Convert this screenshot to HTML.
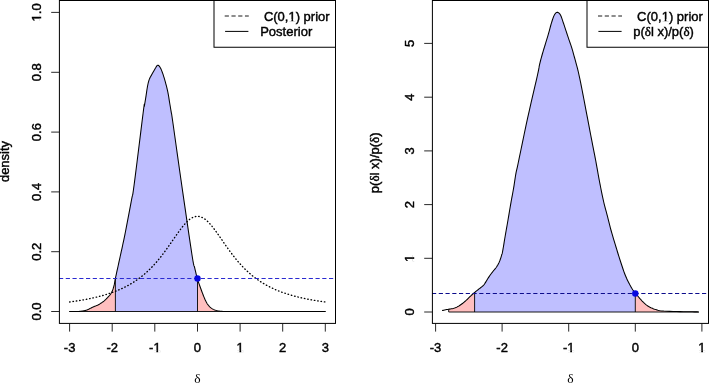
<!DOCTYPE html><html><head><meta charset="utf-8"><title>plot</title><style>html,body{margin:0;padding:0;background:#fff}svg{display:block;will-change:transform}</style></head><body>
<svg width="709" height="383" viewBox="0 0 709 383">
<rect width="709" height="383" fill="#fff"/>
<path d="M69.6,311.5 L69.6,311.5 L70.6,311.5 L71.9,311.5 L73.5,311.5 L75.2,311.5 L76.7,311.5 L78.0,311.5 L79.0,311.4 L79.8,311.4 L80.6,311.3 L81.3,311.2 L81.9,311.1 L82.5,311.0 L83.1,310.9 L83.6,310.8 L84.1,310.7 L84.6,310.6 L85.0,310.5 L85.5,310.4 L85.9,310.3 L86.3,310.2 L86.6,310.1 L87.0,309.9 L87.5,309.7 L88.0,309.5 L88.7,309.2 L89.4,308.8 L90.3,308.4 L91.1,308.0 L92.0,307.5 L92.9,307.1 L93.8,306.7 L94.7,306.3 L95.6,306.0 L96.5,305.6 L97.5,305.2 L98.4,304.7 L99.3,304.2 L100.3,303.6 L101.2,303.0 L102.1,302.4 L103.0,301.8 L103.9,301.1 L104.7,300.4 L105.5,299.7 L106.3,298.9 L107.0,298.2 L107.7,297.4 L108.4,296.7 L109.0,296.0 L109.6,295.4 L110.1,294.7 L110.6,294.1 L111.1,293.3 L111.6,292.5 L112.0,291.6 L112.5,290.6 L112.9,289.5 L113.2,288.4 L113.6,287.3 L113.9,286.1 L114.2,284.9 L114.4,283.8 L114.6,282.6 L114.8,281.4 L115.1,280.0 L115.4,278.4 L115.4,311.5 Z" fill="#ffbfbf"/>
<path d="M115.4,311.5 L115.4,278.4 L115.8,276.6 L116.2,274.6 L116.7,272.4 L117.2,270.2 L117.7,268.0 L118.1,266.0 L118.5,264.1 L118.9,262.2 L119.3,260.4 L119.7,258.5 L120.1,256.8 L120.5,255.0 L120.9,253.3 L121.2,251.7 L121.6,250.1 L121.9,248.5 L122.3,246.8 L122.7,245.0 L123.1,243.2 L123.4,241.6 L123.8,239.9 L124.2,237.9 L124.7,235.3 L125.4,232.0 L126.3,227.6 L127.3,222.1 L128.5,216.1 L129.6,210.1 L130.6,204.6 L131.5,200.0 L132.1,197.2 L132.4,196.0 L132.6,195.2 L132.9,193.8 L133.3,190.8 L134.1,185.0 L135.4,175.1 L137.1,161.8 L138.9,146.7 L140.8,131.8 L142.4,119.0 L143.5,110.0 L144.1,105.5 L144.3,104.1 L144.3,106.4 L144.6,104.8 L144.9,103.0 L145.2,101.1 L145.5,99.2 L145.8,97.4 L146.1,95.6 L146.4,93.6 L146.7,91.7 L146.9,89.8 L147.2,88.0 L147.5,86.4 L147.8,85.0 L148.0,83.8 L148.3,82.6 L148.6,81.6 L148.9,80.6 L149.2,79.6 L149.6,78.7 L150.0,77.8 L150.4,77.0 L150.8,76.2 L151.3,75.4 L151.8,74.5 L152.3,73.5 L152.9,72.5 L153.5,71.4 L154.1,70.4 L154.7,69.4 L155.2,68.6 L155.7,67.8 L156.1,67.1 L156.5,66.4 L156.9,65.8 L157.3,65.4 L157.7,65.2 L158.1,65.2 L158.6,65.5 L159.0,65.9 L159.4,66.4 L159.9,67.0 L160.3,67.7 L160.7,68.5 L161.1,69.3 L161.6,70.3 L162.0,71.4 L162.4,72.5 L162.8,73.7 L163.2,75.0 L163.7,76.3 L164.1,77.7 L164.5,79.1 L165.0,80.7 L165.4,82.2 L165.8,83.8 L166.3,85.5 L166.7,87.2 L167.1,88.9 L167.5,90.7 L167.9,92.4 L168.2,94.1 L168.5,95.8 L168.8,97.5 L169.1,99.1 L169.3,100.8 L169.6,102.5 L169.9,104.2 L170.2,106.0 L170.5,107.8 L170.8,109.5 L171.0,111.2 L171.3,112.7 L171.4,113.5 L171.5,113.4 L171.5,113.2 L171.6,113.8 L171.9,115.8 L172.5,120.0 L173.5,126.8 L174.7,135.5 L176.1,145.8 L177.7,156.9 L179.4,168.5 L181.0,180.0 L182.8,192.4 L184.8,206.2 L186.9,220.5 L188.9,234.1 L190.6,245.9 L192.0,255.0 L192.9,260.8 L193.5,263.9 L193.9,265.4 L194.1,266.0 L194.3,266.5 L194.7,267.8 L195.1,269.8 L195.6,271.7 L196.0,273.6 L196.5,275.4 L196.9,277.1 L197.4,278.8 L197.5,279.1 L197.5,311.5 Z" fill="#bfbfff"/>
<path d="M197.5,311.5 L197.5,279.1 L197.9,280.3 L198.3,281.8 L198.8,283.1 L199.3,284.4 L199.7,285.7 L200.2,287.0 L200.7,288.3 L201.1,289.5 L201.6,290.8 L202.0,292.0 L202.5,293.1 L202.9,294.3 L203.3,295.4 L203.8,296.6 L204.2,297.7 L204.7,298.7 L205.1,299.7 L205.6,300.7 L206.1,301.6 L206.5,302.4 L206.9,303.2 L207.4,303.9 L207.9,304.6 L208.4,305.3 L208.9,305.9 L209.5,306.5 L210.1,307.1 L210.7,307.7 L211.3,308.1 L212.0,308.6 L212.7,309.0 L213.4,309.4 L214.1,309.7 L214.9,310.0 L215.7,310.3 L216.6,310.5 L217.6,310.7 L218.6,310.9 L219.6,311.1 L220.8,311.2 L221.9,311.3 L223.0,311.4 L223.1,311.5 L223.7,311.5 L230.0,311.5 L241.9,311.5 L258.8,311.5 L278.1,311.5 L297.3,311.5 L313.9,311.5 L325.3,311.5 L325.3,311.5 Z" fill="#ffbfbf"/>
<path d="M69.6,311.5 L325.3,311.5" stroke="#000" stroke-width="0.9" fill="none"/>
<path d="M115.4,311.5 L115.4,278.4" stroke="#000" stroke-width="0.9" fill="none"/>
<path d="M197.5,311.5 L197.5,279.1" stroke="#000" stroke-width="0.9" fill="none"/>
<path d="M69.63,301.98 L70.70,301.84 L71.76,301.69 L72.83,301.54 L73.89,301.38 L74.96,301.23 L76.02,301.07 L77.09,300.90 L78.15,300.73 L79.22,300.56 L80.28,300.38 L81.35,300.20 L82.41,300.02 L83.48,299.83 L84.54,299.63 L85.61,299.44 L86.67,299.23 L87.74,299.03 L88.80,298.81 L89.87,298.59 L90.94,298.37 L92.00,298.14 L93.07,297.91 L94.13,297.67 L95.20,297.42 L96.26,297.17 L97.33,296.91 L98.39,296.64 L99.46,296.37 L100.52,296.09 L101.59,295.80 L102.65,295.50 L103.72,295.20 L104.78,294.89 L105.85,294.57 L106.91,294.24 L107.98,293.90 L109.04,293.56 L110.11,293.20 L111.17,292.84 L112.24,292.46 L113.31,292.08 L114.37,291.68 L115.44,291.27 L116.50,290.85 L117.57,290.42 L118.63,289.98 L119.70,289.52 L120.76,289.05 L121.83,288.57 L122.89,288.07 L123.96,287.56 L125.02,287.03 L126.09,286.49 L127.15,285.93 L128.22,285.35 L129.28,284.76 L130.35,284.15 L131.41,283.52 L132.48,282.88 L133.54,282.21 L134.61,281.52 L135.68,280.82 L136.74,280.09 L137.81,279.34 L138.87,278.57 L139.94,277.77 L141.00,276.96 L142.07,276.11 L143.13,275.25 L144.20,274.35 L145.26,273.43 L146.33,272.49 L147.39,271.51 L148.46,270.51 L149.52,269.48 L150.59,268.43 L151.65,267.34 L152.72,266.23 L153.78,265.08 L154.85,263.90 L155.92,262.70 L156.98,261.47 L158.05,260.20 L159.11,258.91 L160.18,257.59 L161.24,256.24 L162.31,254.86 L163.37,253.46 L164.44,252.03 L165.50,250.58 L166.57,249.11 L167.63,247.61 L168.70,246.11 L169.76,244.58 L170.83,243.05 L171.89,241.51 L172.96,239.96 L174.02,238.42 L175.09,236.88 L176.16,235.35 L177.22,233.83 L178.29,232.34 L179.35,230.87 L180.42,229.44 L181.48,228.05 L182.55,226.70 L183.61,225.40 L184.68,224.17 L185.74,223.00 L186.81,221.91 L187.87,220.90 L188.94,219.97 L190.00,219.14 L191.07,218.40 L192.13,217.77 L193.20,217.25 L194.26,216.84 L195.33,216.55 L196.39,216.37 L197.46,216.31 L198.53,216.37 L199.59,216.55 L200.66,216.84 L201.72,217.25 L202.79,217.77 L203.85,218.40 L204.92,219.14 L205.98,219.97 L207.05,220.90 L208.11,221.91 L209.18,223.00 L210.24,224.17 L211.31,225.40 L212.37,226.70 L213.44,228.05 L214.50,229.44 L215.57,230.87 L216.63,232.34 L217.70,233.83 L218.76,235.35 L219.83,236.88 L220.90,238.42 L221.96,239.96 L223.03,241.51 L224.09,243.05 L225.16,244.58 L226.22,246.11 L227.29,247.61 L228.35,249.11 L229.42,250.58 L230.48,252.03 L231.55,253.46 L232.61,254.86 L233.68,256.24 L234.74,257.59 L235.81,258.91 L236.87,260.20 L237.94,261.47 L239.00,262.70 L240.07,263.90 L241.14,265.08 L242.20,266.23 L243.27,267.34 L244.33,268.43 L245.40,269.48 L246.46,270.51 L247.53,271.51 L248.59,272.49 L249.66,273.43 L250.72,274.35 L251.79,275.25 L252.85,276.11 L253.92,276.96 L254.98,277.77 L256.05,278.57 L257.11,279.34 L258.18,280.09 L259.24,280.82 L260.31,281.52 L261.38,282.21 L262.44,282.88 L263.51,283.52 L264.57,284.15 L265.64,284.76 L266.70,285.35 L267.77,285.93 L268.83,286.49 L269.90,287.03 L270.96,287.56 L272.03,288.07 L273.09,288.57 L274.16,289.05 L275.22,289.52 L276.29,289.98 L277.35,290.42 L278.42,290.85 L279.48,291.27 L280.55,291.68 L281.61,292.08 L282.68,292.46 L283.75,292.84 L284.81,293.20 L285.88,293.56 L286.94,293.90 L288.01,294.24 L289.07,294.57 L290.14,294.89 L291.20,295.20 L292.27,295.50 L293.33,295.80 L294.40,296.09 L295.46,296.37 L296.53,296.64 L297.59,296.91 L298.66,297.17 L299.72,297.42 L300.79,297.67 L301.85,297.91 L302.92,298.14 L303.99,298.37 L305.05,298.59 L306.12,298.81 L307.18,299.03 L308.25,299.23 L309.31,299.44 L310.38,299.63 L311.44,299.83 L312.51,300.02 L313.57,300.20 L314.64,300.38 L315.70,300.56 L316.77,300.73 L317.83,300.90 L318.90,301.07 L319.96,301.23 L321.03,301.38 L322.09,301.54 L323.16,301.69 L324.22,301.84 L325.29,301.98" stroke="#000" stroke-width="1.35" stroke-dasharray="0.5 2.875" stroke-linecap="round" fill="none"/>
<path d="M69.60,311.50 L70.56,311.51 L71.92,311.52 L73.52,311.53 L75.18,311.54 L76.73,311.53 L78.00,311.50 L78.99,311.45 L79.84,311.37 L80.59,311.29 L81.26,311.19 L81.88,311.09 L82.50,311.00 L83.09,310.91 L83.63,310.82 L84.12,310.73 L84.59,310.63 L85.05,310.52 L85.50,310.40 L85.92,310.28 L86.28,310.18 L86.63,310.06 L87.01,309.92 L87.45,309.74 L88.00,309.50 L88.67,309.19 L89.43,308.81 L90.26,308.39 L91.13,307.96 L92.02,307.52 L92.90,307.10 L93.78,306.71 L94.69,306.34 L95.61,305.98 L96.54,305.59 L97.48,305.17 L98.40,304.70 L99.33,304.18 L100.27,303.62 L101.21,303.02 L102.14,302.40 L103.04,301.76 L103.90,301.10 L104.72,300.41 L105.52,299.69 L106.29,298.94 L107.03,298.18 L107.74,297.43 L108.40,296.70 L109.02,296.01 L109.60,295.37 L110.14,294.72 L110.65,294.06 L111.13,293.32 L111.60,292.50 L112.04,291.58 L112.46,290.58 L112.86,289.52 L113.23,288.41 L113.57,287.27 L113.90,286.10 L114.18,284.95 L114.41,283.80 L114.63,282.63 L114.84,281.36 L115.09,279.97 L115.40,278.40 L115.78,276.59 L116.22,274.56 L116.69,272.41 L117.18,270.20 L117.65,268.04 L118.10,266.00 L118.52,264.07 L118.93,262.19 L119.33,260.35 L119.73,258.54 L120.12,256.76 L120.50,255.00 L120.87,253.31 L121.23,251.70 L121.58,250.12 L121.94,248.52 L122.31,246.83 L122.70,245.00 L123.08,243.23 L123.44,241.59 L123.81,239.88 L124.23,237.85 L124.75,235.30 L125.40,232.00 L126.26,227.57 L127.31,222.11 L128.46,216.12 L129.60,210.11 L130.65,204.57 L131.50,200.00 L132.06,197.21 L132.37,195.96 L132.59,195.19 L132.86,193.81 L133.31,190.78 L134.10,185.00 L135.38,175.13 L137.06,161.76 L138.93,146.71 L140.77,131.84 L142.36,118.99 L143.50,110.00 L144.10,105.49 L144.31,104.11 L144.32,106.36 L144.59,104.81 L144.88,103.04 L145.19,101.15 L145.50,99.24 L145.80,97.40 L146.08,95.56 L146.37,93.64 L146.65,91.69 L146.93,89.79 L147.22,88.00 L147.50,86.40 L147.77,85.00 L148.03,83.76 L148.29,82.63 L148.57,81.59 L148.86,80.59 L149.20,79.60 L149.57,78.66 L149.97,77.80 L150.39,76.99 L150.84,76.20 L151.31,75.38 L151.80,74.50 L152.33,73.53 L152.91,72.50 L153.51,71.44 L154.10,70.41 L154.68,69.45 L155.20,68.60 L155.67,67.82 L156.10,67.06 L156.50,66.37 L156.89,65.80 L157.29,65.40 L157.70,65.20 L158.13,65.23 L158.56,65.47 L159.00,65.86 L159.44,66.39 L159.87,67.01 L160.30,67.70 L160.72,68.47 L161.14,69.35 L161.55,70.33 L161.96,71.39 L162.38,72.51 L162.80,73.70 L163.23,74.95 L163.66,76.29 L164.10,77.69 L164.54,79.15 L164.97,80.66 L165.40,82.20 L165.83,83.80 L166.27,85.48 L166.71,87.20 L167.13,88.94 L167.53,90.69 L167.90,92.40 L168.23,94.09 L168.53,95.77 L168.80,97.45 L169.06,99.13 L169.33,100.81 L169.60,102.50 L169.89,104.23 L170.19,106.00 L170.48,107.78 L170.77,109.51 L171.05,111.17 L171.30,112.70 L171.44,113.47 L171.47,113.40 L171.48,113.24 L171.58,113.77 L171.88,115.77 L172.50,120.00 L173.47,126.78 L174.70,135.54 L176.14,145.77 L177.71,156.94 L179.35,168.52 L181.00,180.00 L182.78,192.35 L184.79,206.19 L186.86,220.45 L188.86,234.05 L190.62,245.93 L192.00,255.00 L192.93,260.75 L193.51,263.94 L193.87,265.40 L194.11,265.97 L194.35,266.49 L194.70,267.80 L195.15,269.77 L195.60,271.70 L196.04,273.59 L196.49,275.41 L196.94,277.15 L197.40,278.80 L197.86,280.34 L198.33,281.77 L198.80,283.13 L199.27,284.44 L199.74,285.72 L200.20,287.00 L200.66,288.28 L201.11,289.53 L201.56,290.76 L202.00,291.97 L202.45,293.15 L202.90,294.30 L203.35,295.44 L203.80,296.57 L204.24,297.67 L204.69,298.73 L205.14,299.75 L205.60,300.70 L206.05,301.59 L206.50,302.41 L206.94,303.19 L207.40,303.93 L207.89,304.63 L208.40,305.30 L208.94,305.94 L209.50,306.55 L210.09,307.12 L210.70,307.65 L211.33,308.15 L212.00,308.60 L212.69,309.01 L213.39,309.37 L214.12,309.70 L214.90,309.99 L215.72,310.26 L216.60,310.50 L217.56,310.72 L218.58,310.90 L219.65,311.06 L220.76,311.20 L221.88,311.31 L223.00,311.40 L223.11,311.46 L223.72,311.50 L230.00,311.50 L241.88,311.51 L258.76,311.51 L278.09,311.51 L297.32,311.50 L313.91,311.50 L325.30,311.50" stroke="#000" stroke-width="1.05" fill="none" stroke-linejoin="round" stroke-linecap="round"/>
<path d="M59.4,278.5 L335.5,278.5" stroke="#2a2ad0" stroke-width="1" stroke-dasharray="3.4 3.35" stroke-linecap="round" fill="none"/>
<circle cx="197.5" cy="278.5" r="3.2" fill="#0808e0"/>
<rect x="59.4" y="0.5" width="276.1" height="322.9" fill="none" stroke="#000" stroke-width="1"/>
<path d="M69.6,323.4 L69.6,331.6" stroke="#111" stroke-width="0.9"/>
<text x="63.85" y="351.90" font-family="'Liberation Sans', Arial, Helvetica, sans-serif" font-size="13" stroke="#000" stroke-width="0.42">-3</text>
<path d="M112.2,323.4 L112.2,331.6" stroke="#111" stroke-width="0.9"/>
<text x="106.46" y="351.90" font-family="'Liberation Sans', Arial, Helvetica, sans-serif" font-size="13" stroke="#000" stroke-width="0.42">-2</text>
<path d="M154.8,323.4 L154.8,331.6" stroke="#111" stroke-width="0.9"/>
<text x="149.07" y="351.90" font-family="'Liberation Sans', Arial, Helvetica, sans-serif" font-size="13" stroke="#000" stroke-width="0.42">-1</text><rect x="153.60" y="350.30" width="2.8" height="2.5" fill="#fff"/><rect x="158.12" y="350.30" width="2.7" height="2.5" fill="#fff"/>
<path d="M197.5,323.4 L197.5,331.6" stroke="#111" stroke-width="0.9"/>
<text x="193.85" y="351.90" font-family="'Liberation Sans', Arial, Helvetica, sans-serif" font-size="13" stroke="#000" stroke-width="0.42">0</text>
<path d="M240.1,323.4 L240.1,331.6" stroke="#111" stroke-width="0.9"/>
<text x="236.46" y="351.90" font-family="'Liberation Sans', Arial, Helvetica, sans-serif" font-size="13" stroke="#000" stroke-width="0.42">1</text><rect x="236.66" y="350.30" width="2.8" height="2.5" fill="#fff"/><rect x="241.18" y="350.30" width="2.7" height="2.5" fill="#fff"/>
<path d="M282.7,323.4 L282.7,331.6" stroke="#111" stroke-width="0.9"/>
<text x="279.07" y="351.90" font-family="'Liberation Sans', Arial, Helvetica, sans-serif" font-size="13" stroke="#000" stroke-width="0.42">2</text>
<path d="M325.3,323.4 L325.3,331.6" stroke="#111" stroke-width="0.9"/>
<text x="321.68" y="351.90" font-family="'Liberation Sans', Arial, Helvetica, sans-serif" font-size="13" stroke="#000" stroke-width="0.42">3</text>
<path d="M51.2,311.5 L59.4,311.5" stroke="#111" stroke-width="0.9"/>
<g transform="translate(41.2,311.5) rotate(-90)"><text x="-9.04" y="0.00" font-family="'Liberation Sans', Arial, Helvetica, sans-serif" font-size="13" stroke="#000" stroke-width="0.42">0.0</text></g>
<path d="M51.2,251.7 L59.4,251.7" stroke="#111" stroke-width="0.9"/>
<g transform="translate(41.2,251.7) rotate(-90)"><text x="-9.04" y="0.00" font-family="'Liberation Sans', Arial, Helvetica, sans-serif" font-size="13" stroke="#000" stroke-width="0.42">0.2</text></g>
<path d="M51.2,191.9 L59.4,191.9" stroke="#111" stroke-width="0.9"/>
<g transform="translate(41.2,191.9) rotate(-90)"><text x="-9.04" y="0.00" font-family="'Liberation Sans', Arial, Helvetica, sans-serif" font-size="13" stroke="#000" stroke-width="0.42">0.4</text></g>
<path d="M51.2,132.1 L59.4,132.1" stroke="#111" stroke-width="0.9"/>
<g transform="translate(41.2,132.1) rotate(-90)"><text x="-9.04" y="0.00" font-family="'Liberation Sans', Arial, Helvetica, sans-serif" font-size="13" stroke="#000" stroke-width="0.42">0.6</text></g>
<path d="M51.2,72.3 L59.4,72.3" stroke="#111" stroke-width="0.9"/>
<g transform="translate(41.2,72.3) rotate(-90)"><text x="-9.04" y="0.00" font-family="'Liberation Sans', Arial, Helvetica, sans-serif" font-size="13" stroke="#000" stroke-width="0.42">0.8</text></g>
<path d="M51.2,12.4 L59.4,12.4" stroke="#111" stroke-width="0.9"/>
<g transform="translate(41.2,12.4) rotate(-90)"><text x="-9.04" y="0.00" font-family="'Liberation Sans', Arial, Helvetica, sans-serif" font-size="13" stroke="#000" stroke-width="0.42">1.0</text><rect x="-8.84" y="-1.60" width="2.8" height="2.5" fill="#fff"/><rect x="-4.32" y="-1.60" width="2.7" height="2.5" fill="#fff"/></g>
<text x="197.4" y="382.6" text-anchor="middle" font-family="'Liberation Serif', 'DejaVu Serif', serif" font-size="13.5">δ</text>
<path d="M448.7,312.0 L448.7,309.2 L449.4,309.1 L450.4,309.0 L451.3,308.8 L452.2,308.7 L453.0,308.5 L453.8,308.3 L454.5,308.1 L455.2,307.8 L455.8,307.5 L456.5,307.2 L457.2,306.9 L457.9,306.5 L458.6,306.1 L459.3,305.7 L460.0,305.3 L460.7,304.8 L461.4,304.3 L462.1,303.8 L462.8,303.3 L463.5,302.7 L464.2,302.1 L464.9,301.5 L465.6,300.9 L466.3,300.2 L467.0,299.5 L467.8,298.8 L468.5,298.1 L469.2,297.4 L469.9,296.7 L470.6,296.0 L471.3,295.4 L472.0,294.8 L472.7,294.1 L473.4,293.5 L474.1,292.9 L474.6,292.5 L474.6,312.0 Z" fill="#ffbfbf"/>
<path d="M474.6,312.0 L474.6,292.5 L474.8,292.3 L475.5,291.7 L476.2,291.2 L476.9,290.6 L477.6,290.1 L478.3,289.5 L479.0,288.9 L479.8,288.3 L480.6,287.7 L481.3,287.1 L482.0,286.6 L482.6,286.1 L483.0,285.7 L483.3,285.5 L483.6,285.2 L483.8,285.0 L484.1,284.6 L484.5,284.0 L485.1,283.2 L485.7,282.1 L486.4,280.9 L487.1,279.7 L487.9,278.5 L488.6,277.4 L489.3,276.4 L490.1,275.3 L490.8,274.3 L491.5,273.3 L492.2,272.4 L492.9,271.5 L493.5,270.7 L494.1,270.0 L494.7,269.3 L495.3,268.6 L495.8,268.0 L496.3,267.3 L496.8,266.6 L497.2,265.9 L497.7,265.1 L498.1,264.4 L498.4,263.7 L498.8,263.0 L499.1,262.3 L499.4,261.6 L499.7,260.9 L500.0,260.2 L500.2,259.5 L500.5,258.8 L500.7,258.1 L501.0,257.3 L501.2,256.6 L501.4,255.8 L501.6,255.1 L501.8,254.5 L501.9,254.1 L502.0,253.9 L502.1,253.7 L502.2,253.4 L502.4,252.7 L502.6,251.5 L502.9,249.6 L503.3,247.3 L503.8,244.6 L504.3,241.7 L504.7,238.8 L505.2,236.0 L505.7,233.4 L506.1,230.8 L506.6,228.1 L507.0,225.5 L507.5,222.8 L508.0,220.0 L508.5,217.1 L509.0,214.1 L509.5,211.0 L510.0,208.0 L510.5,205.1 L511.0,202.3 L511.5,199.7 L511.9,197.3 L512.4,195.0 L512.8,192.8 L513.2,190.5 L513.6,188.2 L514.0,185.8 L514.4,183.4 L514.7,181.0 L515.1,178.6 L515.4,176.3 L515.8,174.1 L516.1,172.5 L516.3,171.4 L516.5,170.5 L516.9,169.1 L517.4,166.8 L518.2,163.0 L519.4,157.5 L520.8,150.5 L522.4,142.6 L524.2,134.3 L525.9,126.0 L527.6,118.2 L529.3,110.5 L531.2,102.5 L533.0,94.5 L534.8,86.9 L536.3,80.3 L537.5,75.0 L538.3,71.4 L538.7,69.1 L539.0,67.7 L539.1,66.7 L539.3,65.8 L539.6,64.4 L540.0,62.6 L540.5,60.8 L541.0,58.9 L541.5,57.1 L542.0,55.3 L542.5,53.5 L543.0,51.8 L543.5,50.1 L544.0,48.5 L544.5,46.9 L545.0,45.2 L545.5,43.6 L546.0,42.0 L546.5,40.3 L547.0,38.7 L547.5,37.1 L548.0,35.4 L548.5,33.7 L549.0,31.9 L549.5,30.0 L550.0,28.1 L550.5,26.2 L551.0,24.5 L551.5,22.8 L552.0,21.2 L552.5,19.7 L553.0,18.3 L553.4,17.0 L553.9,15.9 L554.4,14.9 L554.9,14.1 L555.4,13.4 L555.9,12.9 L556.4,12.6 L556.9,12.4 L557.4,12.3 L557.9,12.4 L558.4,12.6 L558.9,13.0 L559.4,13.5 L559.9,14.2 L560.4,14.9 L560.8,15.8 L561.3,16.8 L561.7,17.9 L562.1,19.1 L562.5,20.4 L563.0,21.8 L563.5,23.3 L564.1,24.9 L564.6,26.6 L565.2,28.4 L565.8,30.1 L566.3,31.7 L566.8,33.3 L567.3,34.8 L567.9,36.4 L568.4,37.9 L568.8,39.3 L569.3,40.7 L569.7,41.9 L570.1,43.0 L570.5,44.1 L570.9,45.2 L571.3,46.3 L571.7,47.6 L572.1,49.1 L572.6,50.7 L573.1,52.4 L573.6,54.1 L574.0,55.8 L574.5,57.5 L575.0,59.2 L575.4,60.9 L575.9,62.6 L576.4,64.3 L576.8,65.9 L577.2,67.4 L577.5,68.7 L577.8,69.8 L578.1,70.9 L578.3,72.0 L578.6,73.3 L579.0,75.0 L579.4,76.9 L579.8,78.9 L580.3,81.2 L580.8,83.7 L581.4,86.6 L582.1,90.0 L582.9,94.1 L583.8,98.8 L584.8,103.8 L585.8,109.0 L586.7,114.1 L587.6,118.7 L588.4,122.9 L589.2,126.9 L589.9,130.8 L590.6,134.5 L591.3,138.1 L592.0,141.7 L592.7,145.1 L593.3,148.4 L593.9,151.5 L594.6,154.7 L595.2,157.8 L595.8,161.0 L596.4,164.3 L597.0,167.6 L597.6,170.9 L598.2,174.3 L598.8,177.6 L599.4,181.0 L600.1,184.5 L600.8,188.0 L601.5,191.6 L602.2,195.1 L602.9,198.4 L603.6,201.5 L604.3,204.3 L604.9,206.9 L605.6,209.4 L606.2,211.7 L606.9,214.0 L607.5,216.4 L608.1,218.8 L608.7,221.1 L609.2,223.4 L609.8,225.7 L610.4,228.0 L611.1,230.5 L611.8,233.1 L612.7,235.9 L613.5,238.8 L614.4,241.6 L615.2,244.4 L616.0,247.0 L616.7,249.4 L617.4,251.7 L618.1,254.0 L618.8,256.1 L619.5,258.3 L620.2,260.5 L620.9,262.7 L621.7,265.0 L622.4,267.3 L623.2,269.5 L623.9,271.6 L624.6,273.5 L625.3,275.2 L625.9,276.8 L626.6,278.3 L627.2,279.7 L627.9,281.0 L628.5,282.3 L629.2,283.6 L629.8,284.9 L630.5,286.1 L631.2,287.2 L631.8,288.2 L632.4,289.2 L632.9,290.0 L633.4,290.6 L633.8,291.2 L634.3,291.8 L634.8,292.4 L635.3,293.0 L635.3,312.0 Z" fill="#bfbfff"/>
<path d="M635.3,312.0 L635.3,293.0 L635.4,293.1 L636.1,294.0 L636.9,295.0 L637.7,296.0 L638.6,297.0 L639.5,298.1 L640.3,299.0 L641.1,299.9 L641.9,300.8 L642.7,301.6 L643.5,302.4 L644.3,303.2 L645.1,303.9 L645.9,304.6 L646.7,305.2 L647.5,305.7 L648.3,306.2 L649.1,306.7 L650.0,307.2 L650.9,307.7 L651.8,308.1 L652.8,308.5 L653.7,308.9 L654.8,309.3 L655.9,309.6 L657.0,309.9 L658.0,310.2 L659.0,310.5 L660.2,310.7 L661.8,310.9 L663.8,311.1 L666.4,311.3 L669.6,311.4 L673.1,311.5 L676.7,311.6 L680.2,311.6 L683.3,311.7 L686.3,311.8 L689.3,311.8 L692.2,311.8 L694.8,311.9 L697.0,311.9 L698.6,311.9 L698.6,312.0 Z" fill="#ffbfbf"/>
<path d="M448.7,312.0 L698.6,312.0" stroke="#000" stroke-width="0.9" fill="none"/>
<path d="M474.6,312.0 L474.6,292.5" stroke="#000" stroke-width="0.9" fill="none"/>
<path d="M635.3,312.0 L635.3,293.0" stroke="#000" stroke-width="0.9" fill="none"/>
<path d="M448.7,312.0 L448.7,309.2" stroke="#000" stroke-width="0.9" fill="none"/>
<path d="M442.40,310.50 L442.96,310.38 L443.74,310.21 L444.66,310.01 L445.66,309.79 L446.66,309.58 L447.60,309.40 L448.50,309.25 L449.43,309.11 L450.36,308.98 L451.28,308.84 L452.17,308.69 L453.00,308.50 L453.77,308.29 L454.49,308.06 L455.17,307.81 L455.84,307.53 L456.51,307.23 L457.20,306.90 L457.90,306.53 L458.60,306.14 L459.30,305.71 L460.00,305.26 L460.70,304.79 L461.40,304.30 L462.10,303.79 L462.80,303.26 L463.49,302.70 L464.19,302.12 L464.89,301.52 L465.60,300.90 L466.31,300.24 L467.03,299.54 L467.75,298.82 L468.47,298.10 L469.19,297.39 L469.90,296.70 L470.61,296.04 L471.31,295.39 L472.01,294.75 L472.70,294.12 L473.40,293.51 L474.10,292.90 L474.80,292.31 L475.50,291.74 L476.19,291.17 L476.89,290.62 L477.59,290.06 L478.30,289.50 L479.04,288.92 L479.81,288.32 L480.59,287.72 L481.34,287.14 L482.02,286.59 L482.60,286.10 L483.03,285.73 L483.33,285.47 L483.56,285.25 L483.79,284.99 L484.08,284.60 L484.50,284.00 L485.05,283.15 L485.70,282.11 L486.40,280.94 L487.14,279.71 L487.88,278.51 L488.60,277.40 L489.32,276.36 L490.05,275.32 L490.79,274.30 L491.53,273.31 L492.23,272.38 L492.90,271.50 L493.53,270.70 L494.13,269.98 L494.71,269.30 L495.27,268.64 L495.80,267.99 L496.30,267.30 L496.78,266.59 L497.23,265.87 L497.66,265.15 L498.06,264.43 L498.44,263.71 L498.80,263.00 L499.13,262.30 L499.44,261.60 L499.73,260.90 L499.99,260.20 L500.25,259.50 L500.50,258.80 L500.75,258.07 L500.98,257.33 L501.21,256.58 L501.42,255.84 L501.62,255.14 L501.80,254.50 L501.94,254.07 L502.04,253.87 L502.12,253.70 L502.22,253.38 L502.37,252.71 L502.60,251.50 L502.93,249.65 L503.33,247.28 L503.78,244.56 L504.25,241.67 L504.73,238.76 L505.20,236.00 L505.65,233.38 L506.11,230.77 L506.57,228.14 L507.04,225.48 L507.52,222.77 L508.00,220.00 L508.49,217.11 L509.00,214.09 L509.51,211.03 L510.02,208.00 L510.52,205.06 L511.00,202.30 L511.46,199.74 L511.91,197.33 L512.35,195.03 L512.78,192.77 L513.19,190.51 L513.60,188.20 L513.99,185.82 L514.36,183.39 L514.71,180.96 L515.07,178.58 L515.43,176.28 L515.80,174.10 L516.11,172.47 L516.33,171.43 L516.55,170.47 L516.87,169.09 L517.39,166.77 L518.20,163.00 L519.36,157.47 L520.80,150.50 L522.43,142.61 L524.17,134.26 L525.92,125.96 L527.60,118.20 L529.31,110.53 L531.15,102.47 L533.01,94.46 L534.76,86.93 L536.30,80.29 L537.50,75.00 L538.29,71.35 L538.75,69.06 L538.99,67.68 L539.13,66.75 L539.29,65.81 L539.60,64.40 L540.04,62.59 L540.50,60.75 L540.99,58.91 L541.50,57.07 L542.00,55.26 L542.50,53.50 L542.99,51.79 L543.49,50.13 L543.99,48.49 L544.50,46.86 L545.00,45.24 L545.50,43.60 L546.00,41.96 L546.50,40.34 L547.00,38.71 L547.50,37.07 L548.00,35.41 L548.50,33.70 L549.00,31.91 L549.50,30.03 L550.01,28.13 L550.51,26.25 L551.01,24.45 L551.50,22.80 L551.99,21.25 L552.47,19.75 L552.95,18.33 L553.43,17.03 L553.91,15.88 L554.40,14.90 L554.89,14.10 L555.39,13.45 L555.89,12.94 L556.40,12.59 L556.90,12.37 L557.40,12.30 L557.90,12.38 L558.41,12.62 L558.92,13.01 L559.43,13.52 L559.92,14.16 L560.40,14.90 L560.85,15.77 L561.27,16.77 L561.68,17.89 L562.10,19.12 L562.53,20.43 L563.00,21.80 L563.51,23.29 L564.06,24.91 L564.62,26.62 L565.20,28.36 L565.76,30.07 L566.30,31.70 L566.82,33.28 L567.34,34.84 L567.86,36.39 L568.36,37.89 L568.84,39.33 L569.30,40.70 L569.73,41.94 L570.13,43.04 L570.51,44.09 L570.89,45.16 L571.28,46.30 L571.70,47.60 L572.14,49.08 L572.61,50.68 L573.08,52.36 L573.56,54.09 L574.03,55.82 L574.50,57.50 L574.97,59.18 L575.44,60.89 L575.91,62.59 L576.37,64.27 L576.80,65.88 L577.20,67.40 L577.54,68.71 L577.82,69.83 L578.08,70.88 L578.34,72.00 L578.64,73.33 L579.00,75.00 L579.41,76.91 L579.85,78.94 L580.32,81.18 L580.84,83.71 L581.43,86.62 L582.10,90.00 L582.89,94.06 L583.80,98.76 L584.77,103.85 L585.76,109.05 L586.72,114.09 L587.60,118.70 L588.40,122.91 L589.17,126.93 L589.91,130.79 L590.62,134.52 L591.31,138.15 L592.00,141.70 L592.67,145.12 L593.32,148.38 L593.95,151.54 L594.57,154.65 L595.19,157.79 L595.80,161.00 L596.40,164.29 L596.99,167.60 L597.57,170.93 L598.16,174.27 L598.77,177.63 L599.40,181.00 L600.07,184.45 L600.77,188.00 L601.48,191.57 L602.20,195.06 L602.91,198.40 L603.60,201.50 L604.27,204.32 L604.93,206.91 L605.59,209.35 L606.23,211.70 L606.87,214.03 L607.50,216.40 L608.10,218.77 L608.67,221.07 L609.24,223.35 L609.81,225.65 L610.43,228.02 L611.10,230.50 L611.85,233.15 L612.66,235.93 L613.51,238.79 L614.37,241.63 L615.21,244.40 L616.00,247.00 L616.74,249.43 L617.44,251.74 L618.13,253.97 L618.81,256.15 L619.50,258.31 L620.20,260.50 L620.93,262.74 L621.67,265.03 L622.42,267.29 L623.16,269.50 L623.89,271.58 L624.60,273.50 L625.28,275.23 L625.94,276.81 L626.58,278.28 L627.22,279.66 L627.86,280.99 L628.50,282.30 L629.16,283.59 L629.83,284.85 L630.51,286.06 L631.17,287.19 L631.80,288.25 L632.40,289.20 L632.93,290.00 L633.40,290.65 L633.84,291.21 L634.29,291.76 L634.80,292.37 L635.40,293.10 L636.11,293.98 L636.90,294.96 L637.74,295.99 L638.60,297.03 L639.47,298.05 L640.30,299.00 L641.10,299.89 L641.90,300.77 L642.70,301.61 L643.50,302.42 L644.30,303.19 L645.10,303.90 L645.90,304.55 L646.69,305.15 L647.48,305.71 L648.29,306.23 L649.12,306.72 L650.00,307.20 L650.90,307.66 L651.82,308.10 L652.76,308.51 L653.75,308.90 L654.79,309.26 L655.90,309.60 L656.97,309.91 L657.96,310.20 L659.00,310.46 L660.23,310.70 L661.79,310.91 L663.80,311.10 L666.43,311.26 L669.60,311.38 L673.09,311.48 L676.68,311.56 L680.16,311.63 L683.30,311.70 L686.27,311.76 L689.28,311.80 L692.17,311.84 L694.79,311.86 L696.98,311.88 L698.60,311.90" stroke="#000" stroke-width="1.05" fill="none" stroke-linejoin="round" stroke-linecap="round"/>
<path d="M432.4,293.5 L708.5,293.5" stroke="#0c0c8c" stroke-width="1" stroke-dasharray="3.4 3.35" stroke-linecap="round" fill="none"/>
<circle cx="635.3" cy="293.5" r="3.2" fill="#0808e0"/>
<rect x="432.4" y="0.5" width="276.1" height="322.9" fill="none" stroke="#000" stroke-width="1"/>
<path d="M435.6,323.4 L435.6,331.6" stroke="#111" stroke-width="0.9"/>
<text x="429.77" y="351.90" font-family="'Liberation Sans', Arial, Helvetica, sans-serif" font-size="13" stroke="#000" stroke-width="0.42">-3</text>
<path d="M502.1,323.4 L502.1,331.6" stroke="#111" stroke-width="0.9"/>
<text x="496.35" y="351.90" font-family="'Liberation Sans', Arial, Helvetica, sans-serif" font-size="13" stroke="#000" stroke-width="0.42">-2</text>
<path d="M568.7,323.4 L568.7,331.6" stroke="#111" stroke-width="0.9"/>
<text x="562.92" y="351.90" font-family="'Liberation Sans', Arial, Helvetica, sans-serif" font-size="13" stroke="#000" stroke-width="0.42">-1</text><rect x="567.45" y="350.30" width="2.8" height="2.5" fill="#fff"/><rect x="571.97" y="350.30" width="2.7" height="2.5" fill="#fff"/>
<path d="M635.3,323.4 L635.3,331.6" stroke="#111" stroke-width="0.9"/>
<text x="631.66" y="351.90" font-family="'Liberation Sans', Arial, Helvetica, sans-serif" font-size="13" stroke="#000" stroke-width="0.42">0</text>
<path d="M701.9,323.4 L701.9,331.6" stroke="#111" stroke-width="0.9"/>
<text x="698.24" y="351.90" font-family="'Liberation Sans', Arial, Helvetica, sans-serif" font-size="13" stroke="#000" stroke-width="0.42">1</text><rect x="698.44" y="350.30" width="2.8" height="2.5" fill="#fff"/><rect x="702.96" y="350.30" width="2.7" height="2.5" fill="#fff"/>
<path d="M424.2,312.0 L432.4,312.0" stroke="#111" stroke-width="0.9"/>
<g transform="translate(414.2,312.0) rotate(-90)"><text x="-3.61" y="0.00" font-family="'Liberation Sans', Arial, Helvetica, sans-serif" font-size="13" stroke="#000" stroke-width="0.42">0</text></g>
<path d="M424.2,258.3 L432.4,258.3" stroke="#111" stroke-width="0.9"/>
<g transform="translate(414.2,258.3) rotate(-90)"><text x="-3.61" y="0.00" font-family="'Liberation Sans', Arial, Helvetica, sans-serif" font-size="13" stroke="#000" stroke-width="0.42">1</text><rect x="-3.41" y="-1.60" width="2.8" height="2.5" fill="#fff"/><rect x="1.11" y="-1.60" width="2.7" height="2.5" fill="#fff"/></g>
<path d="M424.2,204.6 L432.4,204.6" stroke="#111" stroke-width="0.9"/>
<g transform="translate(414.2,204.6) rotate(-90)"><text x="-3.61" y="0.00" font-family="'Liberation Sans', Arial, Helvetica, sans-serif" font-size="13" stroke="#000" stroke-width="0.42">2</text></g>
<path d="M424.2,150.9 L432.4,150.9" stroke="#111" stroke-width="0.9"/>
<g transform="translate(414.2,150.9) rotate(-90)"><text x="-3.61" y="0.00" font-family="'Liberation Sans', Arial, Helvetica, sans-serif" font-size="13" stroke="#000" stroke-width="0.42">3</text></g>
<path d="M424.2,97.2 L432.4,97.2" stroke="#111" stroke-width="0.9"/>
<g transform="translate(414.2,97.2) rotate(-90)"><text x="-3.61" y="0.00" font-family="'Liberation Sans', Arial, Helvetica, sans-serif" font-size="13" stroke="#000" stroke-width="0.42">4</text></g>
<path d="M424.2,43.4 L432.4,43.4" stroke="#111" stroke-width="0.9"/>
<g transform="translate(414.2,43.4) rotate(-90)"><text x="-3.61" y="0.00" font-family="'Liberation Sans', Arial, Helvetica, sans-serif" font-size="13" stroke="#000" stroke-width="0.42">5</text></g>
<text x="570.5" y="382.6" text-anchor="middle" font-family="'Liberation Serif', 'DejaVu Serif', serif" font-size="13.5">δ</text>
<text transform="translate(9.1,161.5) rotate(-90)" text-anchor="middle" font-family="'Liberation Sans', Arial, Helvetica, sans-serif" font-size="13" stroke="#000" stroke-width="0.42">density</text>
<text transform="translate(378.9,162.8) rotate(-90)" text-anchor="middle" font-family="'Liberation Sans', Arial, Helvetica, sans-serif" font-size="13" stroke="#000" stroke-width="0.42">p(<tspan font-family="'Liberation Serif', 'DejaVu Serif', serif">δ</tspan>l x)/p(<tspan font-family="'Liberation Serif', 'DejaVu Serif', serif">δ</tspan>)</text>
<rect x="214.0" y="0.5" width="121.5" height="46.75" fill="#fff" stroke="#000" stroke-width="1"/>
<path d="M225.1,16.0 L248.4,16.0" stroke="#1a1a1a" stroke-width="1" stroke-dasharray="3.4 3.35" stroke-linecap="round"/>
<path d="M225.1,31.4 L248.4,31.4" stroke="#000" stroke-width="1"/>
<text x="263.90" y="20.60" font-family="'Liberation Sans', Arial, Helvetica, sans-serif" font-size="13" stroke="#000" stroke-width="0.42">C(0,1) prior</text><rect x="288.66" y="19.00" width="2.8" height="2.5" fill="#fff"/><rect x="293.18" y="19.00" width="2.7" height="2.5" fill="#fff"/>
<text x="260.2" y="36.0" font-family="'Liberation Sans', Arial, Helvetica, sans-serif" font-size="13" stroke="#000" stroke-width="0.42">Posterior</text>
<rect x="587.0" y="0.5" width="121.5" height="46.75" fill="#fff" stroke="#000" stroke-width="1"/>
<path d="M598.4,16.0 L621.6,16.0" stroke="#1a1a1a" stroke-width="1" stroke-dasharray="3.4 3.35" stroke-linecap="round"/>
<path d="M598.4,31.4 L621.6,31.4" stroke="#000" stroke-width="1"/>
<text x="637.10" y="20.60" font-family="'Liberation Sans', Arial, Helvetica, sans-serif" font-size="13" stroke="#000" stroke-width="0.42">C(0,1) prior</text><rect x="661.86" y="19.00" width="2.8" height="2.5" fill="#fff"/><rect x="666.38" y="19.00" width="2.7" height="2.5" fill="#fff"/>
<text x="633.2" y="36.0" font-family="'Liberation Sans', Arial, Helvetica, sans-serif" font-size="13" stroke="#000" stroke-width="0.42">p(<tspan font-family="'Liberation Serif', 'DejaVu Serif', serif">δ</tspan>l x)/p(<tspan font-family="'Liberation Serif', 'DejaVu Serif', serif">δ</tspan>)</text>
</svg></body></html>
